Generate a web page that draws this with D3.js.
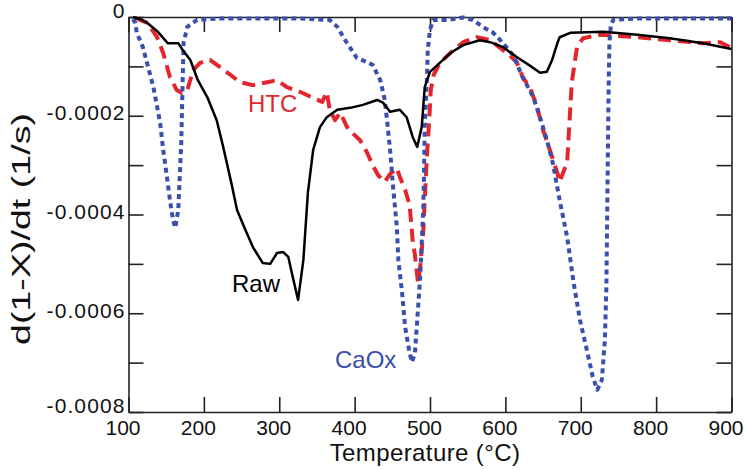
<!DOCTYPE html>
<html>
<head>
<meta charset="utf-8">
<script src="https://cdn.jsdelivr.net/npm/d3@7"></script>
<style>
  body { margin: 0; background: #fff; }
  svg { font-family: "Liberation Sans", Arial, Helvetica, sans-serif; }
</style>
</head>
<body>
<svg id="chart" width="745" height="470"></svg>
<script>
// temperature (°C) and rate d(1-X)/dt (1/s)
const rawTemp = [106,115,125,139,152,166,172,182,192,205,217,225,237,244,255,265,278,288,297,305,
  312,318,325,332,338,345,354,363,377,394,411,430,438,447,460,469,477,483,489,493,
  500,513,527,544,566,580,597,615,633,646,655,662,669,672,686,730,775,818,862,900]
const rawRate = [0,-0.04e-4,-0.12e-4,-0.30e-4,-0.53e-4,-0.53e-4,-0.67e-4,-0.87e-4,-1.28e-4,-1.64e-4,
  -2.09e-4,-2.59e-4,-3.40e-4,-3.91e-4,-4.31e-4,-4.66e-4,-4.98e-4,-5.00e-4,-4.78e-4,-4.76e-4,
  -4.86e-4,-5.27e-4,-5.73e-4,-4.92e-4,-3.56e-4,-2.69e-4,-2.23e-4,-2.03e-4,-1.88e-4,-1.84e-4,
  -1.78e-4,-1.68e-4,-1.74e-4,-1.92e-4,-1.88e-4,-2.03e-4,-2.43e-4,-2.63e-4,-2.23e-4,-1.42e-4,
  -1.11e-4,-0.93e-4,-0.73e-4,-0.57e-4,-0.47e-4,-0.51e-4,-0.61e-4,-0.81e-4,-0.99e-4,-1.13e-4,
  -1.11e-4,-0.87e-4,-0.53e-4,-0.41e-4,-0.32e-4,-0.30e-4,-0.36e-4,-0.43e-4,-0.53e-4,-0.65e-4]

const htcTemp = [109,125,138,146,155,164,171,178,186,195,208,221,235,248,265,284,297,310,328,345,
  357,363,367,374,381,390,397,407,416,424,431,440,447,456,460,467,473,477,480,484,
  487,491,493,496,499,501,505,513,527,544,562,580,602,615,623,633,642,650,659,669,
  672,682,684,686,688,695,703,726,775,818,862,885,900]
const htcRate = [-0.02e-4,-0.12e-4,-0.41e-4,-0.73e-4,-1.22e-4,-1.48e-4,-1.54e-4,-1.48e-4,-1.07e-4,-0.93e-4,
  -0.87e-4,-1.01e-4,-1.17e-4,-1.32e-4,-1.38e-4,-1.32e-4,-1.28e-4,-1.42e-4,-1.52e-4,-1.64e-4,
  -1.72e-4,-1.52e-4,-1.88e-4,-2.09e-4,-1.94e-4,-2.23e-4,-2.35e-4,-2.49e-4,-2.73e-4,-3.00e-4,
  -3.20e-4,-3.34e-4,-3.18e-4,-3.06e-4,-3.24e-4,-3.50e-4,-3.81e-4,-4.52e-4,-4.82e-4,-5.37e-4,
  -5.06e-4,-4.37e-4,-3.71e-4,-2.79e-4,-2.09e-4,-1.48e-4,-1.17e-4,-0.93e-4,-0.73e-4,-0.51e-4,
  -0.41e-4,-0.47e-4,-0.73e-4,-0.91e-4,-1.22e-4,-1.44e-4,-1.82e-4,-2.29e-4,-2.69e-4,-3.16e-4,
  -3.34e-4,-2.94e-4,-2.39e-4,-1.88e-4,-1.34e-4,-0.61e-4,-0.43e-4,-0.36e-4,-0.41e-4,-0.47e-4,
  -0.53e-4,-0.51e-4,-0.63e-4]

const caoxTemp = [106,109,111,119,126,133,138,142,146,151,155,159,162,166,168,170,171,172,173,178,
  191,221,274,328,367,377,390,403,416,424,434,440,444,447,451,456,458,463,467,473,
  476,480,484,487,489,491,492,493,496,497,500,504,523,544,557,570,584,597,610,623,
  637,646,655,663,672,682,690,699,708,716,722,728,732,734,735,736,737,738,740,743,
  775,832,900]
const caoxRate = [-0.04e-4,-0.12e-4,-0.32e-4,-0.61e-4,-1.01e-4,-1.42e-4,-1.82e-4,-2.15e-4,-2.69e-4,-3.24e-4,
  -3.71e-4,-4.11e-4,-4.27e-4,-3.91e-4,-3.24e-4,-2.55e-4,-1.88e-4,-1.22e-4,-0.53e-4,-0.20e-4,
  -0.06e-4,-0.03e-4,-0.03e-4,-0.03e-4,-0.06e-4,-0.20e-4,-0.53e-4,-0.83e-4,-0.91e-4,-0.97e-4,
  -1.28e-4,-1.68e-4,-2.23e-4,-2.69e-4,-3.44e-4,-4.25e-4,-4.92e-4,-5.59e-4,-6.28e-4,-6.81e-4,
  -6.99e-4,-6.81e-4,-5.93e-4,-5.27e-4,-4.58e-4,-3.91e-4,-3.24e-4,-2.23e-4,-1.22e-4,-0.67e-4,
  -0.26e-4,-0.06e-4,-0.06e-4,-0.01e-4,-0.06e-4,-0.20e-4,-0.32e-4,-0.53e-4,-0.77e-4,-1.22e-4,
  -1.62e-4,-2.03e-4,-2.49e-4,-2.96e-4,-3.71e-4,-4.46e-4,-5.33e-4,-6.14e-4,-6.74e-4,-7.29e-4,
  -7.55e-4,-7.35e-4,-6.54e-4,-5.47e-4,-4.11e-4,-2.75e-4,-1.42e-4,-0.53e-4,-0.16e-4,-0.06e-4,
  -0.03e-4,-0.03e-4,-0.03e-4]

const xTicks = [100,200,300,400,500,600,700,800,900]
const yTicks = [0,-0.0001,-0.0002,-0.0003,-0.0004,-0.0005,-0.0006,-0.0007,-0.0008]
const yLabelled = [0,-0.0002,-0.0004,-0.0006,-0.0008]

const svg = d3.select("#chart")
const m = { left: 128.5, right: 731.5, top: 17, bottom: 412 }

const x = d3.scaleLinear().domain([100, 900]).range([m.left, m.right])
const y = d3.scaleLinear().domain([0, -0.0008]).range([m.top, m.bottom])

const isLabelled = d => yLabelled.some(v => Math.abs(v - d) < 1e-9)
const fmtY = d => isLabelled(d) ? (d === 0 ? "0" : d.toFixed(4)) : ""

// axes, ticks pointing inward on all four sides
const gx = svg.append("g").attr("transform", `translate(0,${m.bottom})`)
    .call(d3.axisBottom(x).tickValues(xTicks).tickSizeInner(-15).tickSizeOuter(0).tickPadding(8).tickFormat(d3.format("d")))
gx.selectAll("text").attr("dx", -6).attr("font-size", 21).attr("fill", "#111")

const gy = svg.append("g").attr("transform", `translate(${m.left},0)`)
    .call(d3.axisLeft(y).tickValues(yTicks).tickSizeInner(-15).tickSizeOuter(0).tickPadding(3).tickFormat(fmtY))
gy.selectAll("text")
    .attr("dy", d => d === 0 || d < -0.00079 ? "0.02em" : "0.2em")
    .attr("font-size", 21).attr("letter-spacing", 1.1).attr("fill", "#111")

svg.append("g").attr("transform", `translate(0,${m.top})`)
    .call(d3.axisTop(x).tickValues(xTicks).tickSizeInner(-15).tickSizeOuter(0).tickFormat(""))
svg.append("g").attr("transform", `translate(${m.right},0)`)
    .call(d3.axisRight(y).tickValues(yTicks).tickSizeInner(-15).tickSizeOuter(0).tickFormat(""))

svg.selectAll(".domain, .tick line").attr("stroke", "#222").attr("stroke-width", 1.6)

// curves
const line = d3.line().x(d => x(d[0])).y(d => y(d[1]))
const series = [
    { t: htcTemp, r: htcRate, color: "#e3262d", width: 4, dash: "13,7" },
    { t: caoxTemp, r: caoxRate, color: "#3a4fae", width: 4, dash: "5,4" },
    { t: rawTemp, r: rawRate, color: "#000", width: 2.5, dash: null }
]
series.forEach(s => {
    svg.append("path")
        .datum(s.t.map((t, i) => [t, s.r[i]]))
        .attr("fill", "none")
        .attr("stroke", s.color)
        .attr("stroke-width", s.width)
        .attr("stroke-dasharray", s.dash)
        .attr("stroke-linejoin", "round")
        .attr("d", line)
})

// labels
svg.append("text").attr("x", 248).attr("y", 112).attr("font-size", 24).attr("fill", "#e3262d").text("HTC")
svg.append("text").attr("x", 232).attr("y", 292).attr("font-size", 24).attr("fill", "#000").text("Raw")
svg.append("text").attr("x", 335).attr("y", 368).attr("font-size", 24).attr("fill", "#3a4fae").text("CaOx")

svg.append("text").attr("x", 425).attr("y", 461).attr("text-anchor", "middle")
    .attr("font-size", 24).attr("letter-spacing", 0.4).attr("fill", "#111").text("Temperature (°C)")
svg.append("text").attr("transform", "translate(30,229) rotate(-90)").attr("text-anchor", "middle")
    .attr("font-size", 26).attr("fill", "#111")
    .attr("textLength", 232).attr("lengthAdjust", "spacingAndGlyphs")
    .text("d(1-X)/dt (1/s)")
</script>
</body>
</html>
